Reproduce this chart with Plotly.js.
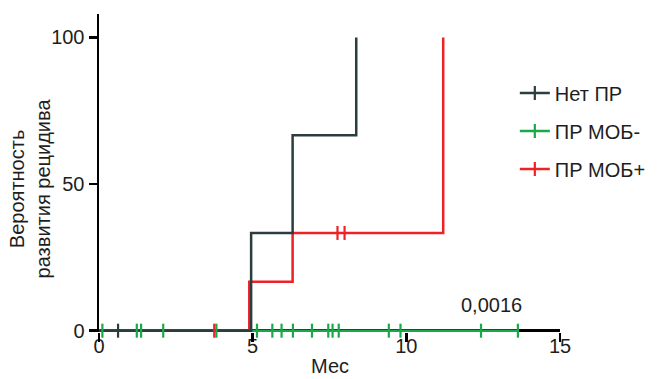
<!DOCTYPE html>
<html>
<head>
<meta charset="utf-8">
<script src="https://cdn.plot.ly/plotly-3.0.1.min.js"></script>
<style>
  html, body { margin: 0; padding: 0; background: #fff; }
  #chart { width: 663px; height: 379px; }
</style>
</head>
<body>
<div id="chart"></div>
<script>
// Cumulative incidence of relapse (%) by month, step vertices per group
const groupNames = ['Нет ПР', 'ПР МОБ-', 'ПР МОБ+'];

const noRemissionTime = [0, 4.95, 6.3, 8.37];
const noRemissionPct  = [0, 33.33, 66.67, 100];
const noRemissionCensored = [0.62];

const mrdNegTime = [0, 13.63];
const mrdNegPct  = [0, 0];
const mrdNegCensored = [0.11, 1.23, 1.37, 2.09, 3.82, 5.14, 5.64, 5.94, 6.31,
                        6.93, 7.46, 7.6, 7.8, 9.43, 9.81, 12.43, 13.63];

const mrdPosTime = [0, 4.89, 6.3, 11.2];
const mrdPosPct  = [0, 16.67, 33.33, 100];
const mrdPosCensored = [3.75, 7.76, 7.99];

const xTicks = [0, 5, 10, 15];
const yTicks = [0, 50, 100];
const pValueLabel = '0,0016';

const colors = ['#2c3d3e', '#19a84a', '#ee2127'];
const FONT = 'Liberation Sans, Arial, sans-serif';
const TEXT = '#1e1e1e';

const groups = [
  {name: groupNames[0], t: noRemissionTime, p: noRemissionPct, c: noRemissionCensored, color: colors[0]},
  {name: groupNames[1], t: mrdNegTime, p: mrdNegPct, c: mrdNegCensored, color: colors[1]},
  {name: groupNames[2], t: mrdPosTime, p: mrdPosPct, c: mrdPosCensored, color: colors[2]}
];

// value of the step curve at time t
function levelAt(g, t) {
  let v = g.p[0];
  for (let i = 0; i < g.t.length; i++) if (g.t[i] <= t) v = g.p[i];
  return v;
}

const traces = [];
// step curves: green under red under dark
[1, 2, 0].forEach(i => {
  const g = groups[i];
  traces.push({
    type: 'scatter', mode: 'lines', x: g.t, y: g.p, xaxis: 'x', yaxis: 'y',
    line: {shape: 'hv', color: g.color, width: 2.5},
    showlegend: false, hoverinfo: 'skip', legendgroup: 'g' + i
  });
});
// censoring ticks; isolated points so no line joins them, but the legend shows line + tick
groups.forEach((g, i) => {
  const xs = [], ys = [];
  g.c.forEach(t => { xs.push(t, null); ys.push(levelAt(g, t), null); });
  traces.push({
    type: 'scatter', mode: 'lines+markers', x: xs, y: ys, connectgaps: false,
    xaxis: 'x2', yaxis: 'y',
    name: g.name, legendgroup: 'g' + i,
    line: {color: g.color, width: 2.5},
    marker: {symbol: 'line-ns-open', size: 10, color: g.color, line: {width: 2.2, color: g.color}},
    cliponaxis: false
  });
});

const layout = {
  width: 663, height: 379,
  margin: {l: 99, r: 95, t: 14, b: 47},
  paper_bgcolor: '#fff', plot_bgcolor: '#fff',
  font: {family: FONT, size: 20, color: TEXT},
  showlegend: true,
  legend: {
    x: 0.902, xanchor: 'left', y: 0.8126, yanchor: 'top',
    font: {family: FONT, size: 20, color: TEXT},
    traceorder: 'grouped', tracegroupgap: 9, bgcolor: 'rgba(0,0,0,0)'
  },
  // month axis: labels only, set close to the axis
  xaxis: {
    range: [0, 15], tickvals: xTicks, ticktext: xTicks.map(String),
    showgrid: false, zeroline: false, showline: false, ticks: '',
    tickfont: {family: FONT, size: 20, color: TEXT},
    layer: 'below traces', fixedrange: true
  },
  // month axis: tick marks
  xaxis2: {
    overlaying: 'x', matches: 'x', anchor: 'y', side: 'bottom',
    tickvals: xTicks, showticklabels: false,
    showgrid: false, zeroline: false, showline: false,
    ticks: 'outside', ticklen: 9, tickwidth: 2.5, tickcolor: '#000',
    layer: 'below traces', fixedrange: true
  },
  yaxis: {
    range: [-0.45, 108], tickvals: yTicks, ticktext: yTicks.map(String),
    showgrid: false, showline: true, linecolor: '#000', linewidth: 2.5,
    zeroline: true, zerolinecolor: '#000', zerolinewidth: 2.5,
    ticks: 'outside', ticklen: 8, tickwidth: 2.5, tickcolor: '#000',
    tickfont: {family: FONT, size: 20, color: TEXT},
    layer: 'below traces', fixedrange: true
  },
  annotations: [
    {text: pValueLabel, x: 12.76, y: 8.8, xref: 'x', yref: 'y', showarrow: false,
     xanchor: 'center', yanchor: 'middle', font: {family: FONT, size: 20, color: TEXT}},
    {text: 'Мес', x: 0.5, xref: 'paper', xanchor: 'center',
     y: 0, yref: 'paper', yanchor: 'top', yshift: -21, showarrow: false,
     font: {family: FONT, size: 20, color: TEXT}},
    // y-axis caption sits in the left margin, placed in pixels from the plot edge
    {text: 'Вероятность<br>развития рецидива', textangle: -90,
     x: 0, xref: 'paper', xanchor: 'center', xshift: 29.5 - 99,
     y: 0.45, yref: 'paper', yanchor: 'middle', showarrow: false,
     font: {family: FONT, size: 20, color: TEXT}}
  ]
};

Plotly.newPlot('chart', traces, layout, {staticPlot: true, displayModeBar: false});
</script>
</body>
</html>
